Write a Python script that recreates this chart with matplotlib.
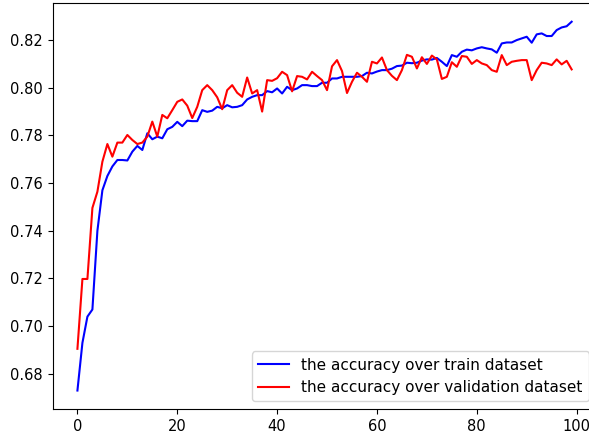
import matplotlib
matplotlib.use('Agg')
import matplotlib.pyplot as plt

# accuracy per epoch
train_acc = [0.673, 0.693, 0.704, 0.707, 0.740, 0.757, 0.763, 0.767, 0.7697, 0.7697,
             0.7695, 0.7732, 0.7756, 0.7739, 0.7809, 0.7784, 0.7795, 0.7788, 0.7826, 0.7836,
             0.7857, 0.7839, 0.7862, 0.7860, 0.7860, 0.7906, 0.7899, 0.7904, 0.7920, 0.7914,
             0.7927, 0.7918, 0.7920, 0.7927, 0.7951, 0.7962, 0.7969, 0.7969, 0.7986, 0.7981,
             0.7997, 0.7976, 0.8004, 0.7990, 0.7997, 0.8011, 0.8011, 0.8007, 0.8007, 0.8021,
             0.8021, 0.8039, 0.8039, 0.8046, 0.8046, 0.8046, 0.8046, 0.8049, 0.8063, 0.8060,
             0.8068, 0.8074, 0.8074, 0.8080, 0.8091, 0.8093, 0.8105, 0.8103, 0.8105, 0.8114,
             0.8119, 0.8118, 0.8125, 0.8109, 0.8091, 0.8137, 0.8130, 0.8151, 0.8160, 0.8157,
             0.8165, 0.8170, 0.8165, 0.8161, 0.8147, 0.8186, 0.8190, 0.8190, 0.8200, 0.8207,
             0.8214, 0.8189, 0.8224, 0.8228, 0.8217, 0.8217, 0.8242, 0.8253, 0.8258, 0.8277]

val_acc = [0.6905, 0.7198, 0.7198, 0.7496, 0.7564, 0.7690, 0.7764, 0.7711, 0.7770, 0.7770,
           0.7802, 0.7781, 0.7764, 0.7770, 0.7795, 0.7858, 0.7795, 0.7886, 0.7872, 0.7906,
           0.7941, 0.7951, 0.7925, 0.7873, 0.7920, 0.7990, 0.8011, 0.7990, 0.7960, 0.7910,
           0.7990, 0.8011, 0.7979, 0.7962, 0.8043, 0.7976, 0.7990, 0.7900, 0.8032, 0.8029,
           0.8040, 0.8067, 0.8053, 0.7985, 0.8049, 0.8046, 0.8035, 0.8067, 0.8049, 0.8032,
           0.7990, 0.8090, 0.8116, 0.8070, 0.7978, 0.8025, 0.8063, 0.8046, 0.8025, 0.8109,
           0.8102, 0.8127, 0.8074, 0.8050, 0.8032, 0.8074, 0.8138, 0.8130, 0.8081, 0.8128,
           0.8100, 0.8135, 0.8119, 0.8037, 0.8046, 0.8107, 0.8088, 0.8133, 0.8130, 0.8100,
           0.8116, 0.8102, 0.8095, 0.8074, 0.8067, 0.8137, 0.8095, 0.8109, 0.8113, 0.8116,
           0.8116, 0.8032, 0.8074, 0.8105, 0.8102, 0.8095, 0.8119, 0.8098, 0.8113, 0.8077]

epochs = list(range(len(train_acc)))

fig = plt.figure(figsize=(5.89, 4.37), dpi=100)
# axes runs a little past the right edge, like the cropped original
ax = fig.add_axes([0.0895, 0.0641, 0.923, 0.9284])
ax.plot(epochs, train_acc, color='blue', label='the accuracy over train dataset')
ax.plot(epochs, val_acc, color='red', label='the accuracy over validation dataset')
ax.legend(loc='lower right', fontsize=11)
ax.tick_params(labelsize=10.5)

fig.savefig('out.png', dpi=100)
